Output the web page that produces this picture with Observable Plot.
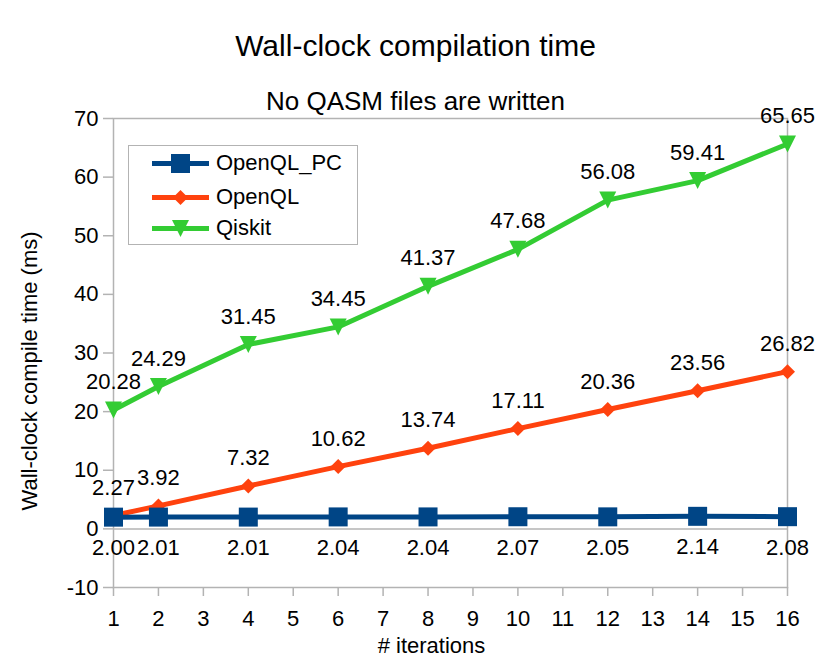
<!DOCTYPE html>
<html>
<head>
<meta charset="utf-8">
<script src="https://cdn.jsdelivr.net/npm/d3@7"></script>
<script src="https://cdn.jsdelivr.net/npm/@observablehq/plot@0.6"></script>
<style>
  body { margin: 0; background: white; font-family: "Liberation Sans", Arial, sans-serif; }
  #wrap { position: relative; width: 830px; height: 663px; }
  #legend { position: absolute; left: 128px; top: 145px; width: 230px; height: 100px;
            border: 1.5px solid #b3b3b3; background: white; box-sizing: border-box; }
  .row { position: absolute; left: 0; height: 30px; display: flex; align-items: center; font-size: 22px; color: black; }
  .row svg { margin-left: 23px; margin-right: 7px; }
</style>
</head>
<body>
<div id="wrap"><div id="chart"></div><div id="legend"></div></div>
<script>
const titleText = "Wall-clock compilation time";
const subtitleText = "No QASM files are written";
const yLabelText = "Wall-clock compile time (ms)";
const xLabelText = "# iterations";

const iterations = [1, 2, 4, 6, 8, 10, 12, 14, 16];
const openqlPC = [2.00, 2.01, 2.01, 2.04, 2.04, 2.07, 2.05, 2.14, 2.08];
const openql   = [2.27, 3.92, 7.32, 10.62, 13.74, 17.11, 20.36, 23.56, 26.82];
const qiskit   = [20.28, 24.29, 31.45, 34.45, 41.37, 47.68, 56.08, 59.41, 65.65];

const seriesNames = ["OpenQL_PC", "OpenQL", "Qiskit"];
const seriesValues = [openqlPC, openql, qiskit];
const seriesColors = ["#004586", "#ff420e", "#33cc33"];

const xTicks = [1, 2, 3, 4, 5, 6, 7, 8, 9, 10, 11, 12, 13, 14, 15, 16];
const yTicks = [-10, 0, 10, 20, 30, 40, 50, 60, 70];

const squareSym = { draw(ctx, size) { const r = Math.sqrt(size / Math.PI); ctx.rect(-r, -r, 2 * r, 2 * r); } };
const diamondSym = { draw(ctx, size) { const r = Math.sqrt(size / Math.PI); ctx.moveTo(0, -r); ctx.lineTo(r, 0); ctx.lineTo(0, r); ctx.lineTo(-r, 0); ctx.closePath(); } };
const triDownSym = { draw(ctx, size) { const r = Math.sqrt(size / Math.PI); ctx.moveTo(-r, -r); ctx.lineTo(r, -r); ctx.lineTo(0, r); ctx.closePath(); } };
const symbols = [squareSym, diamondSym, triDownSym];
const symR = [9.5, 7.5, 8.5];
const labelDy = [31, -28, -28];

const rows = seriesNames.map((name, i) => iterations.map((x, j) => ({ series: name, x, y: seriesValues[i][j] })));

const gray = "#b3b3b3";
const seriesMarks = [];
for (const i of [2, 1, 0]) {
  seriesMarks.push(Plot.line(rows[i], { x: "x", y: "y", stroke: seriesColors[i], strokeWidth: 5 }));
  seriesMarks.push(Plot.dot(rows[i], { x: "x", y: "y", symbol: symbols[i], r: symR[i], fill: seriesColors[i], stroke: "none" }));
}
const labelMarks = [0, 1, 2].map(i => Plot.text(rows[i], {
  x: "x", y: "y", text: d => d.y.toFixed(2), dy: labelDy[i], fontSize: 22, fill: "black"
}));

const chart = Plot.plot({
  width: 830, height: 663,
  marginLeft: 113, marginRight: 43, marginTop: 118, marginBottom: 76,
  style: { fontFamily: "Liberation Sans, Arial, sans-serif", background: "white", overflow: "visible" },
  x: { domain: [1, 16] },
  y: { domain: [-10, 70] },
  marks: [
    Plot.frame({ stroke: gray, strokeWidth: 1.5 }),
    Plot.ruleY([0], { stroke: gray, strokeWidth: 1.5 }),
    Plot.axisY(yTicks, { tickSize: 10, tickPadding: 5, stroke: gray, strokeWidth: 1.5, fill: "black", fontSize: 22, tickFormat: d => String(d), label: null }),
    Plot.axisX(xTicks, { tickSize: 9, tickPadding: 14, stroke: gray, strokeWidth: 1.5, fill: "black", fontSize: 22, tickFormat: d => String(d), label: null }),
    ...seriesMarks,
    ...labelMarks,
    Plot.text([titleText], { frameAnchor: "top", lineAnchor: "middle", text: d => d, dx: -35, dy: -72, fontSize: 30, fill: "black" }),
    Plot.text([subtitleText], { frameAnchor: "top", lineAnchor: "middle", text: d => d, dx: -35, dy: -17, fontSize: 26, fill: "black" }),
    Plot.text([yLabelText], { frameAnchor: "left", textAnchor: "middle", lineAnchor: "middle", text: d => d, rotate: -90, dx: -84, dy: 18, fontSize: 22, fill: "black" }),
    Plot.text([xLabelText], { frameAnchor: "bottom", lineAnchor: "middle", text: d => d, dx: -19, dy: 58, fontSize: 22, fill: "black" })
  ]
});
document.getElementById("chart").appendChild(chart);

// legend
const legend = document.getElementById("legend");
const rowTops = [2, 36, 67];
const legendShapes = [
  '<rect x="19" y="6" width="19" height="19"/>',
  '<path d="M28.5 8 L36 15.5 L28.5 23 L21 15.5 Z"/>',
  '<path d="M20 7 L37 7 L28.5 24 Z"/>'
];
seriesNames.forEach((name, i) => {
  const row = document.createElement("div");
  row.className = "row";
  row.style.top = rowTops[i] + "px";
  row.innerHTML = `<svg width="57" height="30"><line x1="0" x2="57" y1="15.5" y2="15.5" stroke="${seriesColors[i]}" stroke-width="5"/><g fill="${seriesColors[i]}">${legendShapes[i]}</g></svg><span>${name}</span>`;
  legend.appendChild(row);
});
</script>
</body>
</html>
